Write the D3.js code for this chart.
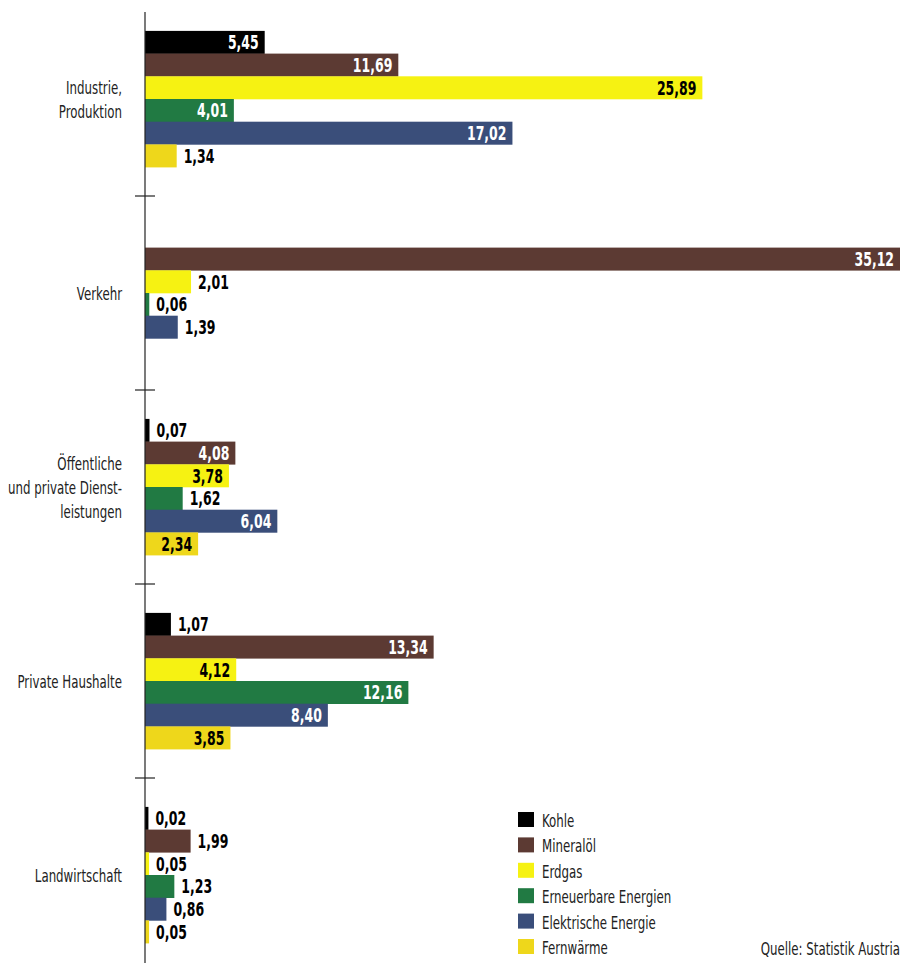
<!DOCTYPE html>
<html>
<head>
<meta charset="utf-8">
<script src="https://cdn.jsdelivr.net/npm/d3@7"></script>
<style>
  body { margin: 0; background: #fff; }
  svg text { font-family: "DejaVu Sans Condensed", "DejaVu Sans", sans-serif; }
</style>
</head>
<body>
<div id="chart"></div>
<script>
// Endenergieverbrauch nach Sektoren
var categories = ["Industrie, Produktion", "Verkehr", "Öffentliche und private Dienstleistungen", "Private Haushalte", "Landwirtschaft"];
var categoryLines = [["Industrie,", "Produktion"], ["Verkehr"], ["Öffentliche", "und private Dienst-", "leistungen"], ["Private Haushalte"], ["Landwirtschaft"]];
var seriesNames = ["Kohle", "Mineralöl", "Erdgas", "Erneuerbare Energien", "Elektrische Energie", "Fernwärme"];
var seriesColors = ["#000000", "#5c3a33", "#f6f212", "#217a43", "#3a4e7a", "#eed71b"];

var kohle      = [5.45, null, 0.07, 1.07, 0.02];
var mineraloel = [11.69, 35.12, 4.08, 13.34, 1.99];
var erdgas     = [25.89, 2.01, 3.78, 4.12, 0.05];
var erneuerbar = [4.01, 0.06, 1.62, 12.16, 1.23];
var elektrisch = [17.02, 1.39, 6.04, 8.40, 0.86];
var fernwaerme = [1.34, null, 2.34, 3.85, 0.05];
var seriesValues = [kohle, mineraloel, erdgas, erneuerbar, elektrisch, fernwaerme];

var source = "Quelle: Statistik Austria";

var width = 900, height = 963;
var sx = 0.73; // squeeze text to look like the condensed face
var svg = d3.select("#chart").append("svg")
    .attr("width", width).attr("height", height);

var x0 = 145;
var x = d3.scaleLinear().domain([0, 35.12]).range([148, 900]);
var y = d3.scaleBand().domain(categories).range([2, 972]);
var barH = 22.7;
var fmt = function(v) { return d3.format(".2f")(v).replace(".", ","); };
var darkText = { "Erdgas": true, "Fernwärme": true };

function squeezed(parent, px, py, anchor) {
    return parent.append("text")
        .attr("transform", "translate(" + px + "," + py + ") scale(" + sx + ",1)")
        .attr("text-anchor", anchor);
}

categories.forEach(function(cat, ci) {
    var rows = [];
    seriesNames.forEach(function(s, si) {
        var v = seriesValues[si][ci];
        if (v !== null) rows.push({ name: s, color: seriesColors[si], value: v });
    });
    var inner = d3.scaleBand().domain(rows.map(function(r) { return r.name; }))
        .range([0, rows.length * barH]);
    var top = y(cat) + y.bandwidth() / 2 - rows.length * barH / 2;
    var g = svg.append("g").attr("transform", "translate(0," + top + ")");

    g.selectAll("rect").data(rows).enter().append("rect")
        .attr("x", x0)
        .attr("y", function(d) { return inner(d.name); })
        .attr("width", function(d) { return x(d.value) - x0; })
        .attr("height", inner.bandwidth() + 0.3)
        .attr("fill", function(d) { return d.color; });

    rows.forEach(function(d) {
        var w = x(d.value) - x0;
        var inside = w > 50;
        var by = inner(d.name) + inner.bandwidth() / 2 + 7;
        squeezed(g, inside ? x(d.value) - 6 : x(d.value) + 7, by, inside ? "end" : "start")
            .attr("fill", inside && !darkText[d.name] ? "#fff" : "#000")
            .attr("font-size", 19)
            .attr("font-weight", "bold")
            .text(fmt(d.value));
    });

    // category label
    var lines = categoryLines[ci];
    var cy = y(cat) + y.bandwidth() / 2;
    lines.forEach(function(line, i) {
        squeezed(svg, 122, cy + 7 + (i - (lines.length - 1) / 2) * 24, "end")
            .attr("font-size", 18)
            .attr("fill", "#222")
            .text(line);
    });
});

// axis line with ticks between groups
svg.append("line")
    .attr("x1", x0).attr("x2", x0)
    .attr("y1", 12).attr("y2", height)
    .attr("stroke", "#222").attr("stroke-width", 1.2);
svg.selectAll("line.tick").data(categories.slice(1)).enter().append("line")
    .attr("class", "tick")
    .attr("x1", 135).attr("x2", 155)
    .attr("y1", function(d) { return y(d); })
    .attr("y2", function(d) { return y(d); })
    .attr("stroke", "#222").attr("stroke-width", 1.2);

// legend
var legend = svg.append("g").attr("transform", "translate(518,812)");
seriesNames.forEach(function(name, i) {
    var li = legend.append("g").attr("transform", "translate(0," + (i * 25.4) + ")");
    li.append("rect").attr("width", 16).attr("height", 15)
        .attr("fill", seriesColors[i]);
    squeezed(li, 24, 15, "start")
        .attr("font-size", 18).attr("fill", "#222")
        .text(name);
});

squeezed(svg, 900, 955, "end")
    .attr("font-size", 18).attr("fill", "#222")
    .text(source);
</script>
</body>
</html>
